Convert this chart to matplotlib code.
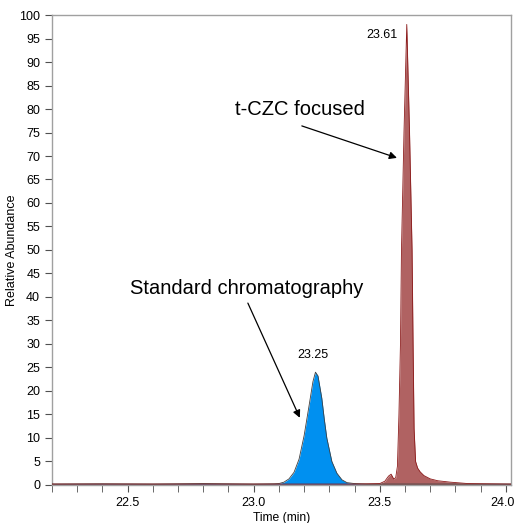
import matplotlib
matplotlib.use("Agg")
import matplotlib.pyplot as plt
import matplotlib.transforms as mtransforms
from matplotlib.ticker import MultipleLocator

plt.rcParams['font.family'] = ['Liberation Sans', 'DejaVu Sans']

# Standard chromatography trace (blue)
std_time = [22.20, 22.40, 22.60, 22.80, 23.00, 23.08, 23.10, 23.12, 23.14, 23.16, 23.18, 23.20,
            23.22, 23.235, 23.245, 23.255, 23.27, 23.28, 23.29, 23.31, 23.33, 23.35,
            23.37, 23.40, 23.45, 23.60, 23.80, 24.02]
std_vals = [0.2, 0.25, 0.2, 0.3, 0.2, 0.25, 0.3, 0.6, 1.3, 2.7, 5.5, 10.5,
            17.0, 22.0, 24.0, 23.2, 18.5, 14.0, 10.0, 5.0, 2.5, 1.1,
            0.5, 0.3, 0.2, 0.2, 0.2, 0.2]

# t-CZC focused trace (red)
czc_time = [22.20, 22.50, 22.80, 23.10, 23.40, 23.50, 23.52, 23.535, 23.545, 23.555, 23.563,
            23.570, 23.576, 23.582, 23.586, 23.596, 23.607, 23.618, 23.628, 23.632,
            23.636, 23.642, 23.650, 23.660, 23.675, 23.70, 23.73, 23.78, 23.85, 24.02]
czc_vals = [0.2, 0.2, 0.2, 0.2, 0.2, 0.3, 0.8, 1.9, 2.3, 1.3, 1.5,
            4.0, 15.0, 30.0, 50.0, 75.0, 98.0, 75.0, 50.0, 30.0,
            12.0, 5.0, 3.6, 2.8, 2.0, 1.3, 0.9, 0.6, 0.3, 0.2]

peak_labels = ["23.25", "23.61"]
peak_label_pos = [(23.234, 27.7), (23.510, 95.7)]

annot_texts = ["t-CZC focused", "Standard chromatography"]
annot_text_pos = [(23.185, 79.8), (22.971, 41.9)]
arrow_start = [(23.191, 76.4), (22.977, 38.7)]
arrow_tip = [(23.568, 69.6), (23.183, 14.3)]

fig = plt.figure(figsize=(5.14, 5.23), dpi=100)
ax = fig.add_axes([0.101, 0.0727, 0.893, 0.8986])

ax.fill_between(std_time, std_vals, 0, color='#0090f0', linewidth=0, zorder=2)
ax.plot(std_time, std_vals, color='#404040', linewidth=0.6, zorder=3)
ax.fill_between(czc_time, czc_vals, 0, color='#b06262', linewidth=0, zorder=2)
ax.plot(czc_time, czc_vals, color='#8b1a1a', linewidth=0.6, zorder=3)

ax.set_xlim(22.2, 24.02)
ax.set_ylim(0, 100)
ax.xaxis.set_major_locator(MultipleLocator(0.5))
ax.xaxis.set_minor_locator(MultipleLocator(0.1))
ax.yaxis.set_major_locator(MultipleLocator(5))
ax.xaxis.set_major_formatter(plt.FuncFormatter(lambda v, p: f"{v:.1f}"))

for s in ax.spines.values():
    s.set_color('#a0a0a0')
    s.set_linewidth(1.0)
ax.tick_params(axis='both', which='both', direction='out', colors='#505050',
               labelcolor='black', labelsize=9)
ax.tick_params(axis='x', which='both', length=5)
ax.tick_params(axis='y', which='major', length=5)

ax.set_xlabel("Time (min)", fontsize=8.7, labelpad=2)
ax.set_ylabel("Relative Abundance", fontsize=9, labelpad=1)

fig.canvas.draw()
for lab in ax.get_xticklabels():
    if lab.get_text() == "24.0":
        lab.set_transform(lab.get_transform() +
                          mtransforms.ScaledTranslation(-3 / 100, 0, fig.dpi_scale_trans))

for txt, (x, y) in zip(peak_labels, peak_label_pos):
    ax.text(x, y, txt, ha='center', va='center', fontsize=9)

for txt, (x, y) in zip(annot_texts, annot_text_pos):
    ax.text(x, y, txt, ha='center', va='center', fontsize=14.5)

for st, tp in zip(arrow_start, arrow_tip):
    ax.annotate("", xy=tp, xytext=st,
                arrowprops=dict(arrowstyle='-|>', color='black', lw=0.9,
                                shrinkA=0, shrinkB=0, mutation_scale=11))

fig.savefig("out.png", dpi=100)
